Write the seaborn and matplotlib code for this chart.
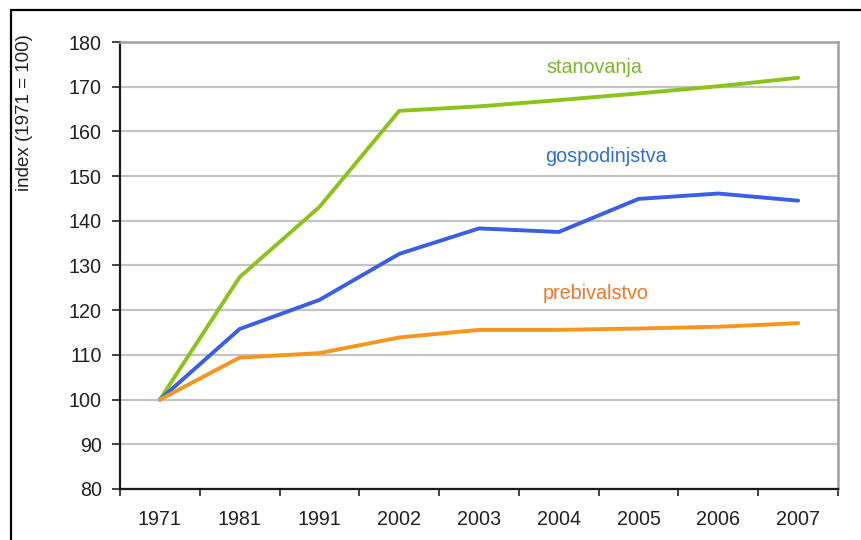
import matplotlib
matplotlib.use("Agg")
import matplotlib.pyplot as plt
from matplotlib.lines import Line2D
from matplotlib.ticker import FixedLocator
import seaborn as sns
import pandas as pd

years = ["1971", "1981", "1991", "2002", "2003", "2004", "2005", "2006", "2007"]
stanovanja = [100, 127.4, 143.1, 164.6, 165.6, 167.0, 168.5, 170.1, 172.0]
gospodinjstva = [100, 115.8, 122.3, 132.6, 138.3, 137.5, 144.9, 146.1, 144.5]
prebivalstvo = [100, 109.4, 110.4, 113.9, 115.6, 115.6, 115.9, 116.3, 117.1]

series_names = ["stanovanja", "gospodinjstva", "prebivalstvo"]
line_colors = ["#8cc21c", "#3a5fe6", "#f7951e"]
text_colors = ["#7cb72a", "#2f6fd6", "#f0782a"]
label_pos = [(5.45, 174.2), (5.59, 154.3), (5.46, 123.8)]

frames = []
for name, vals in zip(series_names, [stanovanja, gospodinjstva, prebivalstvo]):
    frames.append(pd.DataFrame({"leto": years, "index": vals, "serija": name}))
df = pd.concat(frames, ignore_index=True)

sns.set_theme(style="white")
plt.rcParams["font.family"] = ["Liberation Sans", "DejaVu Sans"]

fig = plt.figure(figsize=(8.62, 5.40), dpi=100)
ax = fig.add_axes([120 / 862, 1 - 489 / 540, (838 - 120) / 862, (489 - 42) / 540])

sns.lineplot(data=df, x="leto", y="index", hue="serija", hue_order=series_names,
             palette=line_colors, linewidth=2.8, legend=False, ax=ax, sort=False)

for name, (lx, ly), c in zip(series_names, label_pos, text_colors):
    ax.text(lx, ly, name, color=c, fontsize=14.2, ha="center", va="center")

ax.set_xlim(-0.5, len(years) - 0.5)
ax.set_ylim(80, 180)
ax.set_yticks(range(80, 181, 10))
ax.set_xlabel("")
ax.set_ylabel("index (1971 = 100)", fontsize=13.5, color="#222222")
ax.yaxis.set_label_coords(-0.1215, 0.842)

# horizontal gridlines
ax.yaxis.grid(True, color="#c4c4c4", linewidth=1.6)
ax.xaxis.grid(False)
ax.set_axisbelow(True)

# category labels centred, tick marks at category boundaries
ax.xaxis.set_minor_locator(FixedLocator([i - 0.5 for i in range(len(years) + 1)]))
ax.tick_params(axis="x", which="major", length=0, pad=15, labelsize=14.2, labelcolor="#222222")
ax.tick_params(axis="x", which="minor", length=5, width=1.2, color="#222222", direction="out", bottom=True)
ax.tick_params(axis="y", which="major", length=6, width=1.2, color="#222222", direction="out",
               left=True, labelsize=14.2, labelcolor="#222222", pad=7)

for side in ["left", "bottom"]:
    ax.spines[side].set_color("#1a1a1a")
    ax.spines[side].set_linewidth(1.6)
for side in ["top", "right"]:
    ax.spines[side].set_visible(True)
    ax.spines[side].set_color("#a0a0a0")
    ax.spines[side].set_linewidth(1.8)

# outer frame along the top and left edges
fig.add_artist(Line2D([11 / 862, 1.0], [1 - 10 / 540, 1 - 10 / 540], transform=fig.transFigure,
                      color="black", linewidth=1.6))
fig.add_artist(Line2D([11 / 862, 11 / 862], [0.0, 1 - 10 / 540], transform=fig.transFigure,
                      color="black", linewidth=1.6))

fig.savefig("out.png", dpi=100, facecolor="white")
